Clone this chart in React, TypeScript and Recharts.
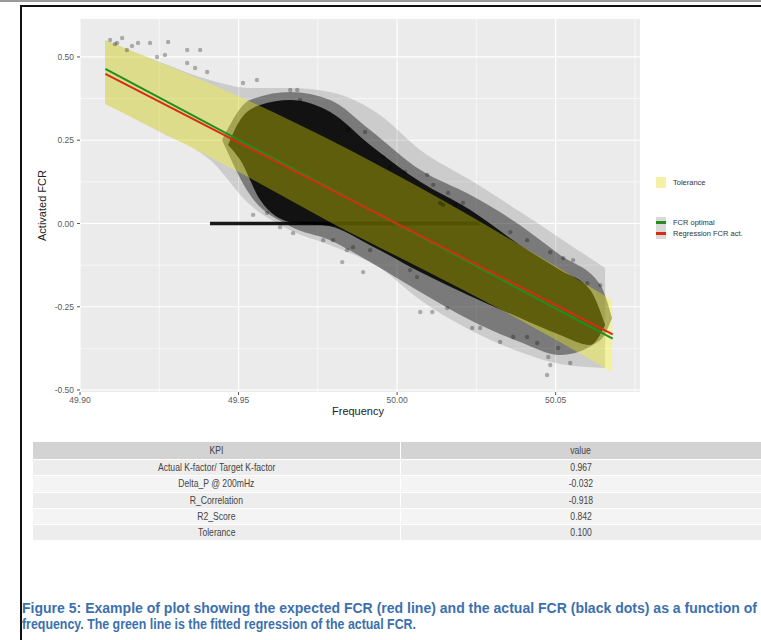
import { ComposedChart, XAxis, YAxis, CartesianGrid, Area, Line, Scatter, Label } from 'recharts';

// axis ticks / grid
const majorX = [49.9, 49.95, 50.0, 50.05];
const minorX = [49.925, 49.975, 50.025, 50.075];
const majorY = [-0.5, -0.25, 0, 0.25, 0.5];
const minorY = [-0.375, -0.125, 0.125, 0.375];

// tolerance ribbon
const tolFreq = [49.9079, 49.9505, 49.9789, 50.0073, 50.0388, 50.0678];
const tolLow = [0.359, 0.152, 0.004, -0.134, -0.29, -0.446];
const tolHigh = [0.551, 0.38, 0.251, 0.107, -0.065, -0.23];

// straight lines
const lineFreq = [49.908, 50.068];
const fcrOptimal = [0.464, -0.346];
const fcrRegression = [0.449, -0.333];

// sparse fringe of measured points
const haloFreq = [49.9079, 49.9252, 49.941, 49.9536, 49.9663, 49.9789, 49.9946, 50.0073, 50.023, 50.0388, 50.0514, 50.0656];
const haloLow = [0.359, 0.275, 0.191, 0.056, -0.02, -0.065, -0.134, -0.23, -0.32, -0.386, -0.422, -0.434];
const haloHigh = [0.551, 0.485, 0.431, 0.407, 0.407, 0.395, 0.326, 0.221, 0.131, 0.035, -0.044, -0.134];

// medium density zone
const midFreq = [49.9448, 49.9536, 49.9663, 49.9789, 49.9915, 50.0073, 50.023, 50.0388, 50.0514, 50.0641, 50.0678];
const midLow = [0.251, 0.086, -0.008, -0.05, -0.116, -0.206, -0.29, -0.356, -0.395, -0.35, -0.284];
const midHigh = [0.251, 0.371, 0.395, 0.371, 0.281, 0.161, 0.086, -0.005, -0.095, -0.185, -0.284];

// dense core of measured points
const coreFreq = [49.9467, 49.9505, 49.9568, 49.9663, 49.9789, 49.9915, 50.0073, 50.023, 50.0388, 50.0514, 50.0609, 50.0656];
const coreLow = [0.236, 0.191, 0.071, 0.004, -0.008, -0.065, -0.146, -0.218, -0.284, -0.335, -0.365, -0.305];
const coreHigh = [0.236, 0.311, 0.356, 0.371, 0.335, 0.236, 0.125, 0.041, -0.065, -0.14, -0.2, -0.305];

// points stuck at zero activation
const deadbandFreq = [49.941, 50.026];

// single points outside the dense cloud
const outlierFreq = [
  49.9095, 49.911, 49.9117, 49.9133, 49.9148, 49.9164, 49.9183, 49.9221, 49.9243, 49.9268, 49.9278, 49.9338, 49.9379, 49.9338,
  49.9363, 49.9401, 49.9514, 49.9558, 49.9663, 49.9685, 49.9694, 49.9846, 49.9899, 49.9956, 49.9978, 50.0025, 50.0095, 50.0114,
  50.0161, 50.0208, 50.0136, 50.0145, 50.0183, 50.0357, 50.041, 50.0483, 50.0524, 50.0555, 50.06, 50.0641,
  49.9546, 49.959, 49.9631, 49.9672, 49.9767, 49.9798, 49.9827, 49.9842, 49.9861, 49.9893, 49.9915, 50.0041, 50.0063, 50.0073,
  50.0111, 50.0158, 50.0237, 50.0262, 50.0325, 50.0366, 50.041, 50.0442, 50.0473, 50.0477, 50.0483, 50.0508, 50.0546,
];
const outlierFcr = [
  0.551, 0.539, 0.542, 0.557, 0.521, 0.533, 0.542, 0.542, 0.5, 0.506, 0.545, 0.521, 0.521, 0.482,
  0.467, 0.455, 0.422, 0.431, 0.401, 0.401, 0.371, 0.281, 0.275, 0.2, 0.17, 0.155, 0.146, 0.116,
  0.092, 0.062, 0.062, 0.056, 0.056, -0.026, -0.05, -0.086, -0.104, -0.11, -0.179, -0.185,
  0.026, 0.032, -0.011, -0.029, -0.05, -0.05, -0.116, -0.08, -0.071, -0.146, -0.08, -0.14, -0.161, -0.266,
  -0.266, -0.254, -0.314, -0.314, -0.356, -0.341, -0.341, -0.359, -0.455, -0.401, -0.425, -0.374, -0.419,
];

const kpiNames = ['Actual K-factor/ Target K-factor', 'Delta_P @ 200mHz', 'R_Correlation', 'R2_Score', 'Tolerance'];
const kpiValues = ['0.967', '-0.032', '-0.918', '0.842', '0.100'];

const band = (xs: number[], lo: number[], hi: number[]) => xs.map((x, i) => ({ x, band: [lo[i], hi[i]] }));
const tolerance = band(tolFreq, tolLow, tolHigh);
const halo = band(haloFreq, haloLow, haloHigh);
const mid = band(midFreq, midLow, midHigh);
const core = band(coreFreq, coreLow, coreHigh);
const deadband = deadbandFreq.map((x) => ({ x, band: [-0.005, 0.005] }));
const optimal = lineFreq.map((x, i) => ({ x, y: fcrOptimal[i] }));
const regression = lineFreq.map((x, i) => ({ x, y: fcrRegression[i] }));
const outliers = outlierFreq.map((x, i) => ({ x, y: outlierFcr[i] }));

const FONT = '"Liberation Sans", Arial, sans-serif';
const GREEN = '#1F8F1F';
const RED = '#D92B12';

function YTitle(props: any) {
  const { x, y, height } = props.viewBox;
  const cx = x + 42;
  const cy = y + height / 2;
  return (
    <text x={cx} y={cy} transform={`rotate(-90 ${cx} ${cy})`} textAnchor="middle" dominantBaseline="central" fontSize={11} fill="#222" fontFamily={FONT}>
      Activated FCR
    </text>
  );
}

function XTitle(props: any) {
  const { x, y, width } = props.viewBox;
  return (
    <text x={x + width / 2 - 2} y={y + 19} textAnchor="middle" dominantBaseline="central" fontSize={11} fill="#222" fontFamily={FONT}>
      Frequency
    </text>
  );
}

const tickStyle = { fontSize: 8.5, fill: '#5a5a5a', fontFamily: FONT };

function LegendKey({ top, color }: { top: number; color: string }) {
  return (
    <div style={{ position: 'absolute', left: 656, top, width: 10, height: 11, background: '#D9D9D9' }}>
      <div style={{ position: 'absolute', left: 0, top: 4, width: 10, height: 2.5, background: color }} />
    </div>
  );
}

// narrow table text: Arial squeezed like Arial Narrow
function Narrow({ children }: { children: React.ReactNode }) {
  return <span style={{ display: 'inline-block', transform: 'scaleX(0.82)', whiteSpace: 'nowrap' }}>{children}</span>;
}

export default function App() {
  return (
    <div style={{ position: 'absolute', left: 0, top: 0, width: 761, height: 640, background: '#fff', overflow: 'hidden', fontFamily: FONT }}>
      <div style={{ position: 'absolute', left: 0, top: 0, width: 761, height: 2, background: '#9a9a9a' }} />
      <div style={{ position: 'absolute', left: 20, top: 5, width: 741, height: 2, background: '#111' }} />
      <div style={{ position: 'absolute', left: 20, top: 5, width: 2, height: 635, background: '#111' }} />

      <div style={{ position: 'absolute', left: 0, top: 0 }}>
        <ComposedChart width={761} height={430} margin={{ top: 19, right: 121, bottom: 8, left: 0 }}>
          <CartesianGrid fill="#EBEBEB" stroke="#fff" strokeWidth={0.6} horizontalValues={minorY} verticalValues={minorX} />
          <CartesianGrid stroke="#fff" strokeWidth={1.2} horizontalValues={majorY} verticalValues={majorX} />
          <XAxis
            type="number"
            dataKey="x"
            domain={[49.9, 50.0766]}
            allowDataOverflow
            ticks={majorX}
            tickFormatter={(v: number) => v.toFixed(2)}
            tick={tickStyle}
            tickSize={3}
            tickMargin={2}
            tickLine={{ stroke: '#555' }}
            axisLine={false}
            height={30}
          >
            <Label content={XTitle} />
          </XAxis>
          <YAxis
            type="number"
            domain={[-0.506, 0.614]}
            allowDataOverflow
            ticks={majorY}
            tickFormatter={(v: number) => v.toFixed(2)}
            tick={tickStyle}
            tickSize={3}
            tickMargin={3}
            tickLine={{ stroke: '#555' }}
            axisLine={false}
            width={80}
          >
            <Label content={YTitle} />
          </YAxis>
          <Area data={halo} dataKey="band" type="monotone" stroke="none" fill="#000" fillOpacity={0.13} isAnimationActive={false} />
          <Area data={mid} dataKey="band" type="monotone" stroke="none" fill="#000" fillOpacity={0.4} isAnimationActive={false} />
          <Area data={core} dataKey="band" type="monotone" stroke="none" fill="#000" fillOpacity={0.85} isAnimationActive={false} />
          <Area data={deadband} dataKey="band" type="linear" stroke="none" fill="#000" fillOpacity={0.9} isAnimationActive={false} />
          <Scatter
            data={outliers}
            dataKey="y"
            isAnimationActive={false}
            shape={(p: any) => <circle cx={p.cx} cy={p.cy} r={2.2} fill="#000" fillOpacity={0.28} />}
          />
          <Area data={tolerance} dataKey="band" type="monotone" stroke="none" fill="#FFFF00" fillOpacity={0.32} isAnimationActive={false} />
          <Line data={optimal} dataKey="y" type="linear" stroke={GREEN} strokeWidth={2} dot={false} isAnimationActive={false} />
          <Line data={regression} dataKey="y" type="linear" stroke={RED} strokeWidth={2} dot={false} isAnimationActive={false} />
        </ComposedChart>
      </div>

      {/* legend */}
      <div style={{ position: 'absolute', left: 656, top: 177, width: 10, height: 11, background: '#F4F1A6' }} />
      <div style={{ position: 'absolute', left: 673, top: 177, fontSize: 7.5, lineHeight: '11px', color: '#333' }}>Tolerance</div>
      <LegendKey top={217} color={GREEN} />
      <LegendKey top={228} color={RED} />
      <div style={{ position: 'absolute', left: 673, top: 217, fontSize: 7.5, lineHeight: '11px', color: '#333' }}>FCR optimal</div>
      <div style={{ position: 'absolute', left: 673, top: 228, fontSize: 7.5, lineHeight: '11px', color: '#333' }}>Regression FCR act.</div>

      {/* KPI table */}
      <div style={{ position: 'absolute', left: 33, top: 442, width: 728, fontSize: 10.5, color: '#444' }}>
        <div style={{ display: 'flex', height: 17, background: '#D3D3D3', borderBottom: '1px solid #fff' }}>
          <div style={{ width: 367, textAlign: 'center', lineHeight: '17px', borderRight: '1px solid #fff' }}><Narrow>KPI</Narrow></div>
          <div style={{ flex: 1, textAlign: 'center', lineHeight: '17px' }}><Narrow>value</Narrow></div>
        </div>
        {kpiNames.map((name, i) => (
          <div key={name} style={{ display: 'flex', height: 15.3, background: i % 2 === 0 ? '#EDEDED' : '#F4F4F4', borderBottom: '1px solid #fff' }}>
            <div style={{ width: 367, textAlign: 'center', lineHeight: '15.3px', borderRight: '1px solid #fff' }}><Narrow>{name}</Narrow></div>
            <div style={{ flex: 1, textAlign: 'center', lineHeight: '15.3px' }}><Narrow>{kpiValues[i]}</Narrow></div>
          </div>
        ))}
      </div>

      {/* caption */}
      <svg style={{ position: 'absolute', left: 0, top: 590 }} width={761} height={50}>
        <text x={22} y={22.5} fontFamily={FONT} fontSize={14} fontWeight="bold" fill="#3C70AD" textLength={735} lengthAdjust="spacingAndGlyphs">
          Figure 5: Example of plot showing the expected FCR (red line) and the actual FCR (black dots) as a function of
        </text>
        <text x={22} y={39} fontFamily={FONT} fontSize={14} fontWeight="bold" fill="#3C70AD" textLength={394} lengthAdjust="spacingAndGlyphs">
          frequency. The green line is the fitted regression of the actual FCR.
        </text>
      </svg>
    </div>
  );
}
